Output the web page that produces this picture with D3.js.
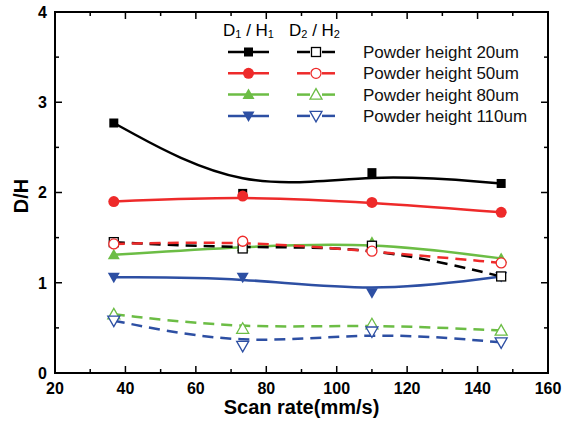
<!DOCTYPE html>
<html>
<head>
<meta charset="utf-8">
<script src="https://cdn.jsdelivr.net/npm/d3@7"></script>
<style>
  html, body { margin: 0; padding: 0; background: #fff; }
  svg { display: block; font-family: "Liberation Sans", Arial, sans-serif; }
</style>
</head>
<body>
<svg id="chart" width="572" height="422"></svg>
<script>
// Scan rates (mm/s)
const scanRates = [36.7, 73.3, 110, 146.7];

// D1/H1 ratios for each powder height
const dh1_20  = [2.77, 1.99, 2.22, 2.10];
const dh1_50  = [1.90, 1.96, 1.89, 1.78];
const dh1_80  = [1.31, 1.40, 1.45, 1.27];
const dh1_110 = [1.06, 1.06, 0.89, 1.07];

// D2/H2 ratios for each powder height
const dh2_20  = [1.45, 1.38, 1.41, 1.07];
const dh2_50  = [1.43, 1.46, 1.35, 1.22];
const dh2_80  = [0.65, 0.49, 0.54, 0.47];
const dh2_110 = [0.58, 0.30, 0.46, 0.34];

const seriesLabels = ["Powder height 20um", "Powder height 50um", "Powder height 80um", "Powder height 110um"];
const xTicks = [20, 40, 60, 80, 100, 120, 140, 160];
const yTicks = [0, 1, 2, 3, 4];

const colors = ["#000000", "#ee2a2a", "#6cbd45", "#2d4fa3"];
const shapes = ["square", "circle", "triangleUp", "triangleDown"];

const groups = [
  { values: [dh1_20, dh1_50, dh1_80, dh1_110], hollow: false },
  { values: [dh2_20, dh2_50, dh2_80, dh2_110], hollow: true }
];

const svg = d3.select("#chart");
const mLeft = 55, mRight = 548, mTop = 12, mBottom = 373;

const x = d3.scaleLinear().domain([20, 160]).range([mLeft, mRight]);
const y = d3.scaleLinear().domain([0, 4]).range([mBottom, mTop]);

function drawMarker(g, shape, cx, cy, color, hollow) {
  const fill = hollow ? "#fff" : color;
  const sw = hollow ? 1.3 : 0;
  if (shape === "square") {
    g.append("rect").attr("x", cx - 4.5).attr("y", cy - 4.5).attr("width", 9).attr("height", 9)
      .attr("fill", fill).attr("stroke", color).attr("stroke-width", sw);
  } else if (shape === "circle") {
    g.append("circle").attr("cx", cx).attr("cy", cy).attr("r", hollow ? 5 : 5.5)
      .attr("fill", fill).attr("stroke", color).attr("stroke-width", sw);
  } else {
    const s = 6;
    const up = shape === "triangleUp";
    const pts = up
      ? [[cx, cy - s], [cx - s, cy + s * 0.75], [cx + s, cy + s * 0.75]]
      : [[cx, cy + s], [cx - s, cy - s * 0.75], [cx + s, cy - s * 0.75]];
    g.append("polygon").attr("points", pts.map(p => p.join(",")).join(" "))
      .attr("fill", fill).attr("stroke", color).attr("stroke-width", sw);
  }
}

// Axes frame with inward ticks on all four sides
const axisG = svg.append("g").attr("class", "axes");
const xMinor = d3.range(30, 160, 20);
const yMinor = [0.5, 1.5, 2.5, 3.5];

function tickLines(vals, len, isX) {
  vals.forEach(v => {
    if (isX) {
      axisG.append("line").attr("x1", x(v)).attr("x2", x(v)).attr("y1", mBottom).attr("y2", mBottom - len)
        .attr("stroke", "#000").attr("stroke-width", 1.5);
      axisG.append("line").attr("x1", x(v)).attr("x2", x(v)).attr("y1", mTop).attr("y2", mTop + len)
        .attr("stroke", "#000").attr("stroke-width", 1.5);
    } else {
      axisG.append("line").attr("x1", mLeft).attr("x2", mLeft + len).attr("y1", y(v)).attr("y2", y(v))
        .attr("stroke", "#000").attr("stroke-width", 1.5);
      axisG.append("line").attr("x1", mRight).attr("x2", mRight - len).attr("y1", y(v)).attr("y2", y(v))
        .attr("stroke", "#000").attr("stroke-width", 1.5);
    }
  });
}
tickLines(xTicks, 7, true);
tickLines(xMinor, 4, true);
tickLines(yTicks, 7, false);
tickLines(yMinor, 4, false);

axisG.append("rect").attr("x", mLeft).attr("y", mTop).attr("width", mRight - mLeft).attr("height", mBottom - mTop)
  .attr("fill", "none").attr("stroke", "#000").attr("stroke-width", 2);

// Tick labels
axisG.selectAll("text.xt").data(xTicks).join("text").attr("class", "xt")
  .attr("x", d => x(d)).attr("y", 394).attr("text-anchor", "middle")
  .attr("font-size", 16).attr("font-weight", "bold").text(d => d);
axisG.selectAll("text.yt").data(yTicks).join("text").attr("class", "yt")
  .attr("x", 47).attr("y", d => y(d)).attr("dy", "0.36em").attr("text-anchor", "end")
  .attr("font-size", 16).attr("font-weight", "bold").text(d => d);

// Axis titles
svg.append("text").attr("x", (mLeft + mRight) / 2).attr("y", 414).attr("text-anchor", "middle")
  .attr("font-size", 20).attr("font-weight", "bold").text("Scan rate(mm/s)");
svg.append("text").attr("transform", "translate(28,196) rotate(-90)").attr("text-anchor", "middle")
  .attr("font-size", 20).attr("font-weight", "bold").text("D/H");

// Data curves (B-spline smoothing) and markers
const line = d3.line().x((d, i) => x(scanRates[i])).y(d => y(d)).curve(d3.curveBasis);
const plot = svg.append("g").attr("class", "plot");

groups.forEach(grp => {
  grp.values.forEach((vals, k) => {
    plot.append("path").datum(vals).attr("d", line).attr("fill", "none")
      .attr("stroke", colors[k]).attr("stroke-width", 2.5)
      .attr("stroke-dasharray", grp.hollow ? "11,7" : null);
    vals.forEach((v, i) => drawMarker(plot, shapes[k], x(scanRates[i]), y(v), colors[k], grp.hollow));
  });
});

// Legend
const leg = svg.append("g").attr("class", "legend");
function header(xp, n) {
  const t = leg.append("text").attr("x", xp).attr("y", 36).attr("font-size", 17);
  t.append("tspan").text("D");
  t.append("tspan").attr("font-size", 11).attr("dy", 2).text(n);
  t.append("tspan").attr("dy", -2).text(" / H");
  t.append("tspan").attr("font-size", 11).attr("dy", 2).text(n);
}
header(223, "1");
header(289, "2");

seriesLabels.forEach((lab, k) => {
  const ly = 52 + k * 21.3;
  leg.append("line").attr("x1", 228).attr("x2", 269).attr("y1", ly).attr("y2", ly)
    .attr("stroke", colors[k]).attr("stroke-width", 2.5);
  drawMarker(leg, shapes[k], 248.5, ly, colors[k], false);
  leg.append("line").attr("x1", 297).attr("x2", 310).attr("y1", ly).attr("y2", ly)
    .attr("stroke", colors[k]).attr("stroke-width", 2.5);
  leg.append("line").attr("x1", 322).attr("x2", 335).attr("y1", ly).attr("y2", ly)
    .attr("stroke", colors[k]).attr("stroke-width", 2.5);
  drawMarker(leg, shapes[k], 316, ly, colors[k], true);
  leg.append("text").attr("x", 363).attr("y", ly).attr("dy", "0.36em").attr("font-size", 17)
    .attr("fill", "#111").text(lab);
});
</script>
</body>
</html>
